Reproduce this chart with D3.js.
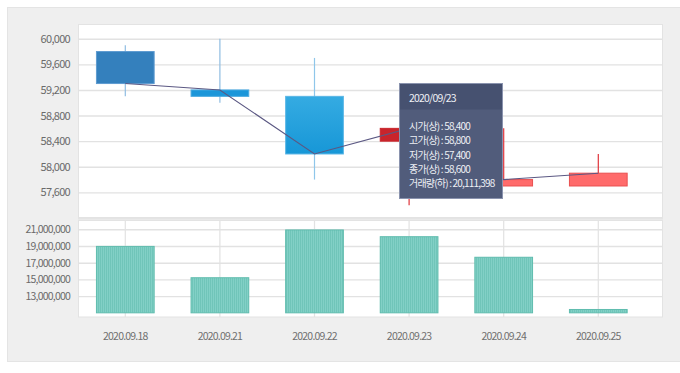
<!DOCTYPE html>
<html>
<head>
<meta charset="utf-8">
<script src="https://cdn.jsdelivr.net/npm/d3@7"></script>
<style>
  html, body { margin: 0; padding: 0; background: #fff; }
  svg text { font-family: "Noto Sans CJK KR", "Noto Sans", sans-serif; }
</style>
</head>
<body>
<div id="chart"></div>
<script>
(function () {
    // Dates on the category axis
    const dates = ["2020.09.18", "2020.09.21", "2020.09.22", "2020.09.23", "2020.09.24", "2020.09.25"];

    // Candle values (price panel)
    const openVals  = [59800, 59200, 59100, 58400, 57700, 57700];
    const highVals  = [59900, 60000, 59700, 58800, 58600, 58200];
    const lowVals   = [59100, 59000, 57800, 57400, 57700, 57700];
    const closeVals = [59300, 59100, 58200, 58600, 57800, 57900];

    // Line series drawn over the candles
    const lineVals = [59300, 59200, 58200, 58600, 57800, 57900];

    // Volume panel values
    const volumeVals = [18950000, 15200000, 20920000, 20111398, 17650000, 11400000];

    // Tick labels
    const priceTicks = [57600, 58000, 58400, 58800, 59200, 59600, 60000];
    const volumeTicks = [13000000, 15000000, 17000000, 19000000, 21000000];

    // Which candle has the tooltip open
    const hoverIndex = 3;

    // Styling of each candle (fill, stroke, wick)
    const candleFill   = ["#3480bd", "#1b96d9", "url(#blueGrad)", "#c9242b", "#ff6b6b", "#ff6b6b"];
    const candleStroke = ["#5f9bd0", "#4aaae0", "#5ab6e6", "#c9242b", "#e95050", "#e95050"];
    const wickColor    = ["#8fbde2", "#8fbde2", "#8fc6ea", "#e0343a", "#e0343a", "#e0343a"];

    const W = 680, H = 373;
    const plot = { left: 78, right: 662, top: 24, split: 218, volTop: 219, bottom: 317 };

    const svg = d3.select("#chart").append("svg")
        .attr("width", W)
        .attr("height", H);

    const defs = svg.append("defs");
    const grad = defs.append("linearGradient")
        .attr("id", "blueGrad")
        .attr("x1", 0).attr("y1", 0).attr("x2", 0).attr("y2", 1);
    grad.append("stop").attr("offset", "0%").attr("stop-color", "#35abe2");
    grad.append("stop").attr("offset", "100%").attr("stop-color", "#1797d7");

    const stripes = defs.append("pattern")
        .attr("id", "stripes")
        .attr("patternUnits", "userSpaceOnUse")
        .attr("width", 2).attr("height", 4);
    stripes.append("rect").attr("width", 2).attr("height", 4).attr("fill", "#82d0c6");
    stripes.append("rect").attr("width", 1).attr("height", 4).attr("fill", "#70c5b9");

    // Outer gray frame
    svg.append("rect")
        .attr("x", 7.5).attr("y", 7.5)
        .attr("width", W).attr("height", 354)
        .attr("fill", "#efefef")
        .attr("stroke", "#e4e4e4");

    // White panels
    svg.append("rect")
        .attr("x", plot.left + 0.5).attr("y", plot.top + 0.5)
        .attr("width", plot.right - plot.left).attr("height", plot.split - plot.top - 1)
        .attr("fill", "#fff").attr("stroke", "#e3e3e3");
    svg.append("rect")
        .attr("x", plot.left + 0.5).attr("y", plot.volTop + 1.5)
        .attr("width", plot.right - plot.left).attr("height", plot.bottom - plot.volTop - 1.5)
        .attr("fill", "#fff").attr("stroke", "#e3e3e3");

    // Scales
    const x = d3.scaleBand()
        .domain(dates)
        .range([plot.left, 645.6])
        .padding(0);
    const cx = d => x(d) + x.bandwidth() / 2;
    const boxW = x.bandwidth() * 0.61;

    const yPrice = d3.scaleLinear().domain([57200, 60230]).range([plot.split, plot.top]);
    const yVol = d3.scaleLinear().domain([10500000, 22230000]).range([plot.bottom, plot.volTop]);
    const volBase = 11000000;

    // Horizontal gridlines + labels, price panel
    const priceAxis = svg.append("g")
        .attr("transform", `translate(${plot.left},0)`)
        .call(d3.axisLeft(yPrice)
            .tickValues(priceTicks)
            .tickSize(-(plot.right - plot.left))
            .tickPadding(8)
            .tickFormat(d3.format(",")));
    priceAxis.select(".domain").remove();
    priceAxis.selectAll(".tick line").attr("stroke", "#e2e2e2").attr("stroke-width", 1.4);
    priceAxis.selectAll(".tick text")
        .attr("fill", "#6a6a6a").attr("font-size", 11).attr("letter-spacing", "-0.7px");

    // Horizontal gridlines + labels, volume panel
    const volAxis = svg.append("g")
        .attr("transform", `translate(${plot.left},0)`)
        .call(d3.axisLeft(yVol)
            .tickValues(volumeTicks)
            .tickSize(-(plot.right - plot.left))
            .tickPadding(8)
            .tickFormat(d3.format(",")));
    volAxis.select(".domain").remove();
    volAxis.selectAll(".tick line").attr("stroke", "#e2e2e2").attr("stroke-width", 1.4);
    volAxis.selectAll(".tick text")
        .attr("fill", "#6a6a6a").attr("font-size", 10.5).attr("letter-spacing", "-0.8px");

    // Vertical gridlines + date labels under the volume panel
    const xAxis = svg.append("g")
        .attr("transform", `translate(0,${plot.bottom})`)
        .call(d3.axisBottom(x)
            .tickSize(-(plot.bottom - plot.volTop - 2))
            .tickPadding(16));
    xAxis.select(".domain").remove();
    xAxis.selectAll(".tick line").attr("stroke", "#e2e2e2").attr("stroke-width", 1.2);
    xAxis.selectAll(".tick text")
        .attr("fill", "#707070").attr("font-size", 10.5).attr("letter-spacing", "-0.8px");

    // Separator between the two panels
    svg.append("line")
        .attr("x1", plot.left).attr("x2", plot.right + 1)
        .attr("y1", plot.split + 0.5).attr("y2", plot.split + 0.5)
        .attr("stroke", "#e4e4e4").attr("stroke-width", 2);

    // Candles
    const candles = svg.append("g").selectAll("g")
        .data(dates)
        .join("g");

    candles.append("line")
        .attr("x1", d => cx(d)).attr("x2", d => cx(d))
        .attr("y1", (d, i) => yPrice(highVals[i]))
        .attr("y2", (d, i) => yPrice(lowVals[i]))
        .attr("stroke", (d, i) => wickColor[i])
        .attr("stroke-width", 1.2);

    candles.append("rect")
        .attr("x", d => cx(d) - boxW / 2)
        .attr("y", (d, i) => yPrice(Math.max(openVals[i], closeVals[i])))
        .attr("width", boxW)
        .attr("height", (d, i) => Math.abs(yPrice(openVals[i]) - yPrice(closeVals[i])))
        .attr("fill", (d, i) => candleFill[i])
        .attr("stroke", (d, i) => candleStroke[i])
        .attr("stroke-width", 1);

    // Line over the candles
    const line = d3.line()
        .x((d, i) => cx(dates[i]))
        .y(d => yPrice(d));
    svg.append("path")
        .datum(lineVals)
        .attr("d", line)
        .attr("fill", "none")
        .attr("stroke", "#5b5883")
        .attr("stroke-width", 1.1);

    // Volume bars
    svg.append("g").selectAll("rect")
        .data(volumeVals)
        .join("rect")
        .attr("x", (d, i) => cx(dates[i]) - boxW / 2)
        .attr("y", d => yVol(d))
        .attr("width", boxW)
        .attr("height", d => yVol(volBase) - yVol(d))
        .attr("fill", "url(#stripes)")
        .attr("stroke", "#5fbcae")
        .attr("stroke-width", 1);

    // Tooltip for the hovered candle
    const fmt = d3.format(",");
    const tip = svg.append("g").attr("transform", "translate(399.5,83.5)");
    const tipW = 103, tipH = 115, headH = 26;
    tip.append("rect")
        .attr("width", tipW).attr("height", tipH)
        .attr("fill", "#515c7b");
    tip.append("rect")
        .attr("width", tipW).attr("height", headH)
        .attr("fill", "#465170");
    tip.append("rect")
        .attr("width", tipW).attr("height", tipH)
        .attr("fill", "none")
        .attr("stroke", "#8a93ae");
    tip.append("text")
        .attr("x", 9.5).attr("y", 18.5)
        .attr("fill", "#eef0f5").attr("font-size", 10.5).attr("letter-spacing", "-0.8px")
        .text(dates[hoverIndex].replace(/\./g, "/"));
    const tipLines = [
        `시가(상) : ${fmt(openVals[hoverIndex])}`,
        `고가(상) : ${fmt(highVals[hoverIndex])}`,
        `저가(상) : ${fmt(lowVals[hoverIndex])}`,
        `종가(상) : ${fmt(closeVals[hoverIndex])}`,
        `거래량(하) : ${fmt(volumeVals[hoverIndex])}`
    ];
    tip.selectAll("text.row")
        .data(tipLines)
        .join("text")
        .attr("class", "row")
        .attr("x", 9.5)
        .attr("y", (d, i) => 46.5 + i * 14.3)
        .attr("fill", "#eef0f5")
        .attr("font-size", 10)
        .attr("letter-spacing", "-0.8px")
        .text(d => d);
})();
</script>
</body>
</html>
